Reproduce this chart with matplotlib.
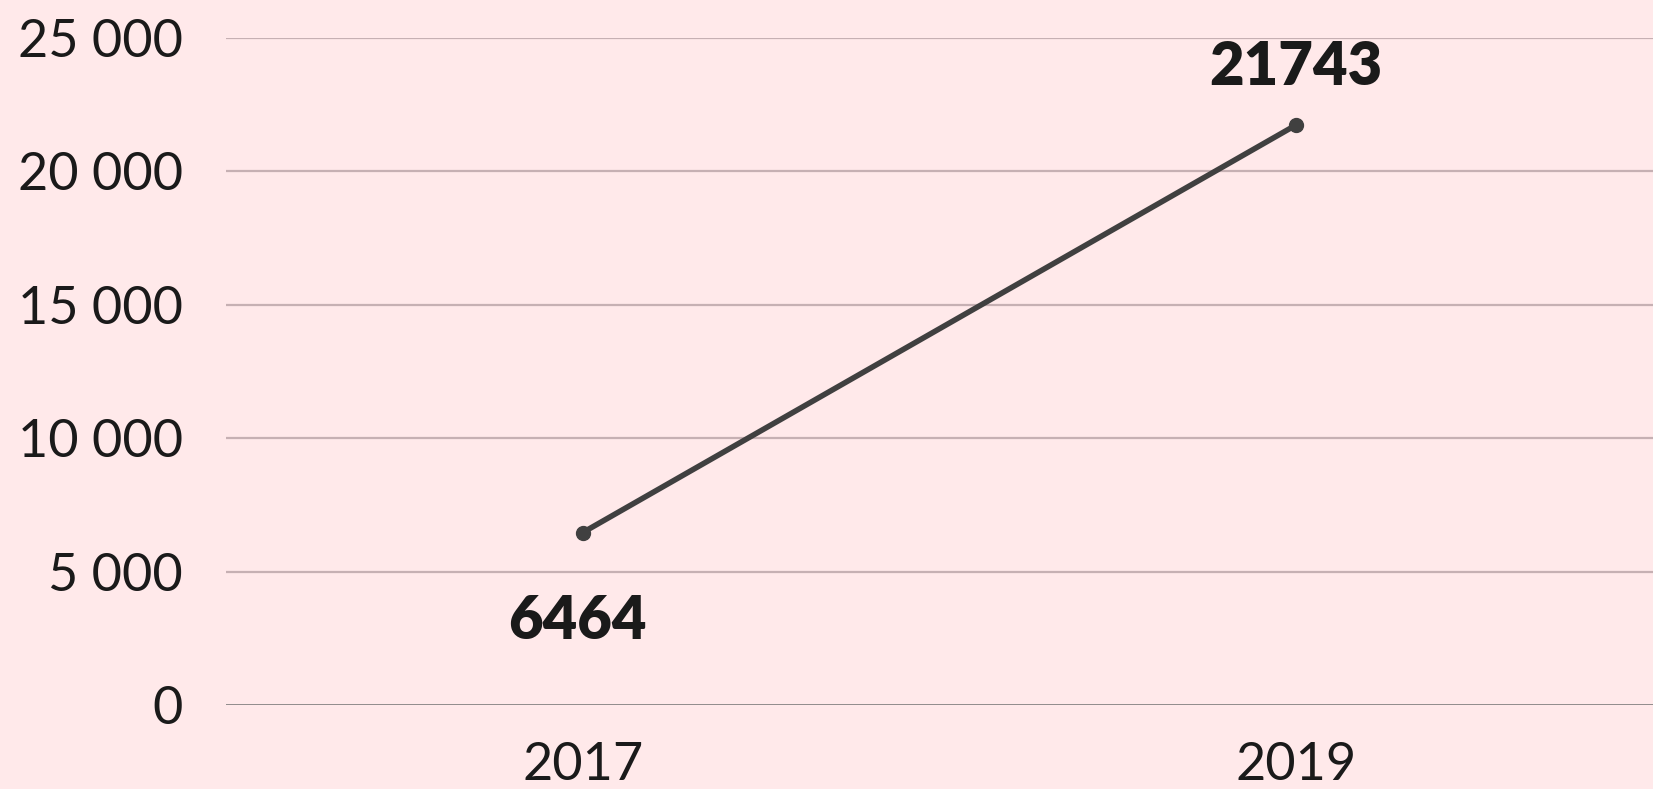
import matplotlib.pyplot as plt
from matplotlib.ticker import FuncFormatter

plt.rcParams['font.family'] = ['Lato', 'DejaVu Sans']

# donnees
annees = ["2017", "2019"]
valeurs = [6464, 21743]
graduations = [0, 5000, 10000, 15000, 20000, 25000]

fond = "#ffe9ea"

fig = plt.figure(figsize=(16.53, 7.89), dpi=100, facecolor=fond)
ax = fig.add_axes([226 / 1653, 84 / 789, 1 - 226 / 1653, (705 - 38) / 789])
ax.set_facecolor(fond)

x = [0.5, 1.5]
ax.plot(x, valeurs, color="#404040", linewidth=4, marker="o", markersize=10,
        solid_capstyle="round", zorder=3)

ax.set_xlim(0, 2)
ax.set_ylim(0, 25000)
ax.set_xticks(x)
ax.set_xticklabels(annees)
ax.set_yticks(graduations)
ax.yaxis.set_major_formatter(FuncFormatter(lambda v, p: f"{int(v):,}".replace(",", " ")))

for g in graduations[1:]:
    ax.axhline(g, color="#c6b0b3", linewidth=1.6, zorder=1)
ax.axhline(0, color="#707070", linewidth=1.8, zorder=2)

for s in ax.spines.values():
    s.set_visible(False)
ax.tick_params(axis="both", length=0, labelsize=37.5, colors="#1a1a1a")
ax.tick_params(axis="y", pad=31)
ax.tick_params(axis="x", pad=27)

# etiquettes des points
decalages = [(-4, -64), (0, 41)]
for xi, v, d in zip(x, valeurs, decalages):
    ax.annotate(str(v), (xi, v), xytext=d, textcoords="offset points",
                ha="center", va="center", fontsize=43, fontweight="heavy",
                color="#1a1a1a")

fig.savefig("out.png", dpi=100, facecolor=fond)
